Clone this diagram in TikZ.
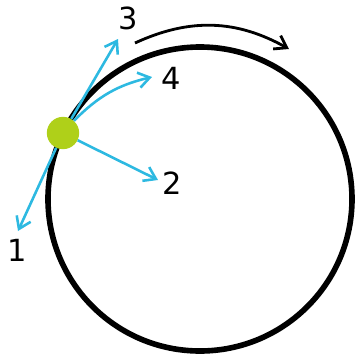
\documentclass[tikz,border=0pt]{standalone}
\usepackage{fontspec}
\setmainfont{DejaVu Sans}
\usetikzlibrary{arrows.meta}
\definecolor{skyarrow}{RGB}{45,185,225}
\definecolor{limedot}{RGB}{175,208,25}

\begin{document}
\begin{tikzpicture}[x=0.03cm, y=-0.03cm, >={Straight Barb[length=3.4mm, width=4.6mm]},
  vec/.style={->, skyarrow, line width=2.2pt},
  num/.style={font=\fontsize{26}{30}\selectfont, inner sep=0pt}]
  \useasboundingbox (0,0) rectangle (358,356);
  % the circle and the way round it
  \draw[line width=4.8pt] (200,199) circle (152);
  \coordinate (a1) at (135,43);
  \coordinate (a2) at (289,49);
  \draw[->, line width=2.4pt] (a1) to[bend left=27] (a2);
  % point on the circle
  \node[circle, fill=limedot, minimum size=0.97cm, inner sep=0pt] (pt) at (63,133) {};
  % arrow ends and numbers
  \coordinate (t1) at (18,231);
  \coordinate (t2) at (158,180);
  \coordinate (t3) at (118,39);
  \coordinate (t4) at (152,77);
  \node[num] (l1) at (17,250) {1};
  \node[num] (l2) at (172,183) {2};
  \node[num] (l3) at (128,18) {3};
  \node[num] (l4) at (171,78) {4};
  \draw[vec] (pt) -- (t1);
  \draw[vec] (pt) -- (t2);
  \draw[vec] (pt) -- (t3);
  \draw[vec] (pt) to[bend left=16] (t4);
\end{tikzpicture}
\end{document}
